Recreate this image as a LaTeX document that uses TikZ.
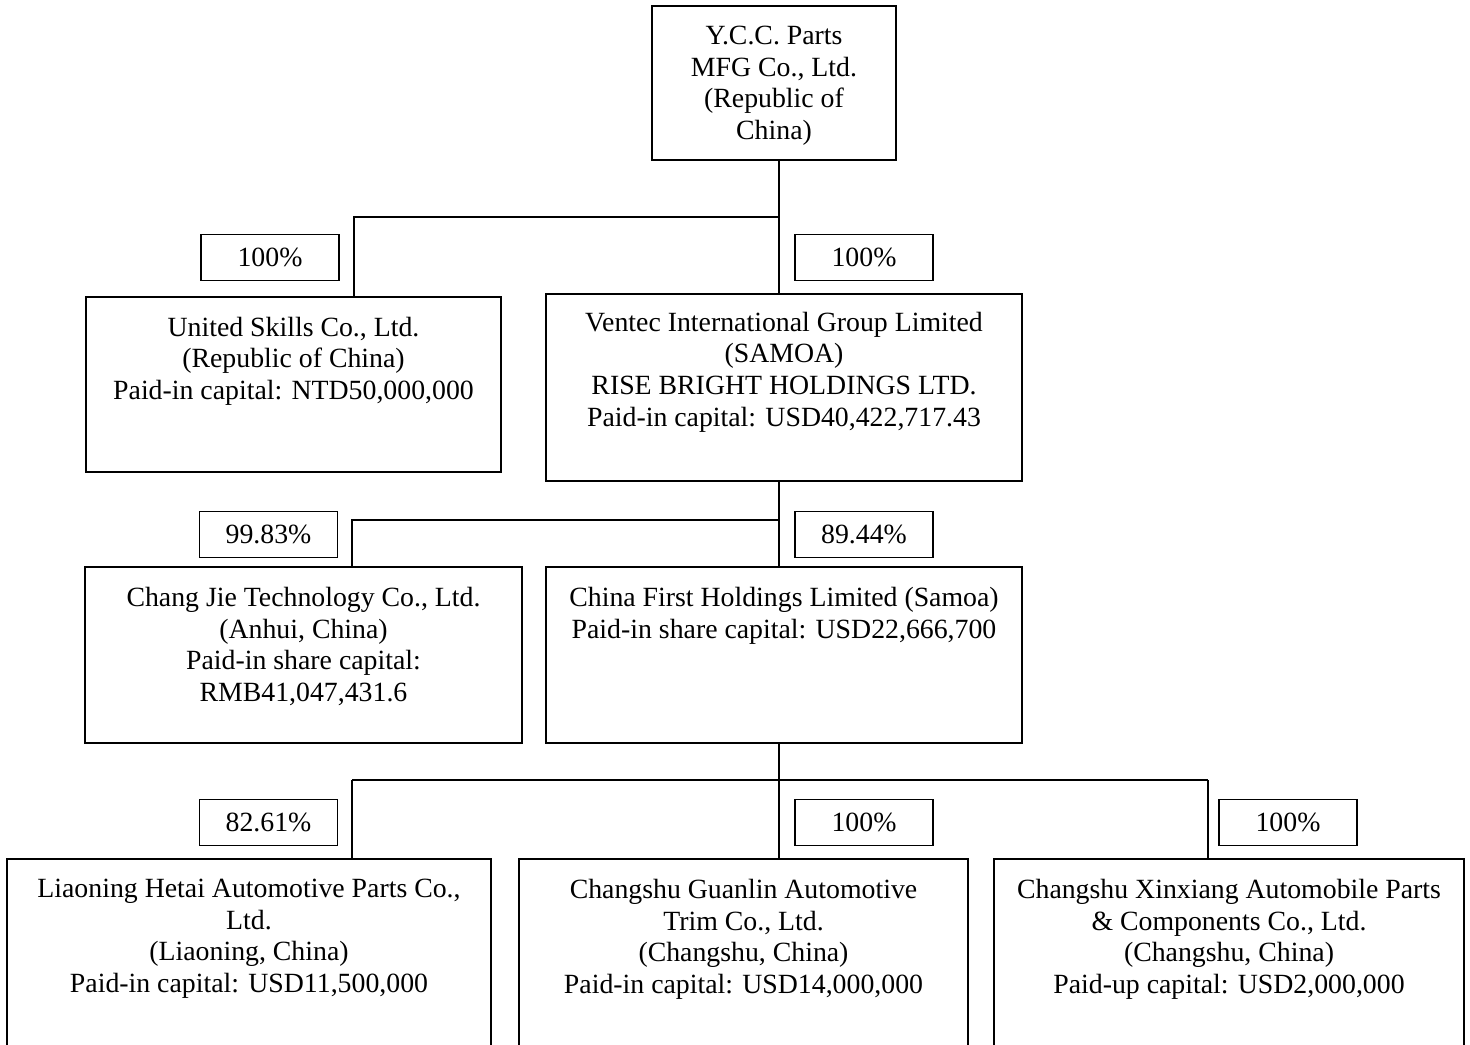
\documentclass[tikz,border=0pt]{standalone}
\usepackage{fontspec}
\setmainfont{Liberation Serif}
\begin{document}
\begin{tikzpicture}[x=0.5pt,y=-0.5pt,
  every node/.style={font=\fontsize{13.9}{15.8}\selectfont},
  box/.style={draw, line width=0.9pt, inner sep=0pt},
  pct/.style={draw, line width=0.9pt, inner sep=0pt, minimum width=69pt, minimum height=23pt},
  lbl/.style={anchor=north, align=center, inner sep=0pt, yshift=-10.3pt},
  link/.style={line width=0.9pt}]
\useasboundingbox (0,0) rectangle (1470,1044);
\clip (0,0) rectangle (1470,1044);
% entities
\node[box, minimum width=122pt, minimum height=77pt, label={[lbl]north:Y.C.C. Parts\\MFG Co., Ltd.\\(Republic of\\China)}] (yc) at (774,83) {};
\node[box, minimum width=207.5pt, minimum height=87.5pt, label={[lbl]north:United Skills Co., Ltd.\\(Republic of China)\\Paid-in capital: NTD50,000,000}] (us) at (293.5,384.5) {};
\node[box, minimum width=238pt, minimum height=93.5pt, label={[lbl,yshift=1pt]north:Ventec International Group Limited\\(SAMOA)\\RISE BRIGHT HOLDINGS LTD.\\Paid-in capital: USD40,422,717.43}] (ven) at (784,387.5) {};
\node[box, minimum width=218.5pt, minimum height=88pt, label={[lbl]north:Chang Jie Technology Co., Ltd.\\(Anhui, China)\\Paid-in share capital:\\RMB41,047,431.6}] (cj) at (303.5,655) {};
\node[box, minimum width=238pt, minimum height=88pt, label={[lbl]north:China First Holdings Limited (Samoa)\\Paid-in share capital: USD22,666,700}] (cf) at (784,655) {};
\node[box, minimum width=242pt, minimum height=100pt, label={[lbl]north:Liaoning Hetai Automotive Parts Co.,\\Ltd.\\(Liaoning, China)\\Paid-in capital: USD11,500,000}] (lh) at (249,959) {};
\node[box, minimum width=224.5pt, minimum height=100pt, label={[lbl]north:Changshu Guanlin Automotive\\Trim Co., Ltd.\\(Changshu, China)\\Paid-in capital: USD14,000,000}] (gl) at (743.5,959) {};
\node[box, minimum width=235pt, minimum height=100pt, label={[lbl]north:Changshu Xinxiang Automobile Parts\\\& Components Co., Ltd.\\(Changshu, China)\\Paid-up capital: USD2,000,000}] (xx) at (1229,959) {};
% percentages
\node[pct] (p1) at (270,257.5) {100\%};
\node[pct] (p2) at (864,257.5) {100\%};
\node[pct] (p3) at (268.5,534.5) {99.83\%};
\node[pct] (p4) at (864,534.5) {89.44\%};
\node[pct] (p5) at (268.5,822.5) {82.61\%};
\node[pct] (p6) at (864,822.5) {100\%};
\node[pct] (p7) at (1288,822.5) {100\%};
% junctions
\coordinate (j1) at (779,217);
\coordinate (j1l) at (354,217);
\coordinate (j2) at (779,520);
\coordinate (j2l) at (352,520);
\coordinate (j3) at (779,780);
\coordinate (j3l) at (352,780);
\coordinate (j3r) at (1208,780);
% connectors
\draw[link] (yc.south -| j1) -- (ven.north -| j1);
\draw[link] (j1) -- (j1l) -- (us.north -| j1l);
\draw[link] (ven.south -| j2) -- (cf.north -| j2);
\draw[link] (j2) -- (j2l) -- (cj.north -| j2l);
\draw[link] (cf.south -| j3) -- (gl.north -| j3);
\draw[link] (j3l) -- (j3r);
\draw[link] (j3l) -- (lh.north -| j3l);
\draw[link] (j3r) -- (xx.north -| j3r);
\end{tikzpicture}
\end{document}
